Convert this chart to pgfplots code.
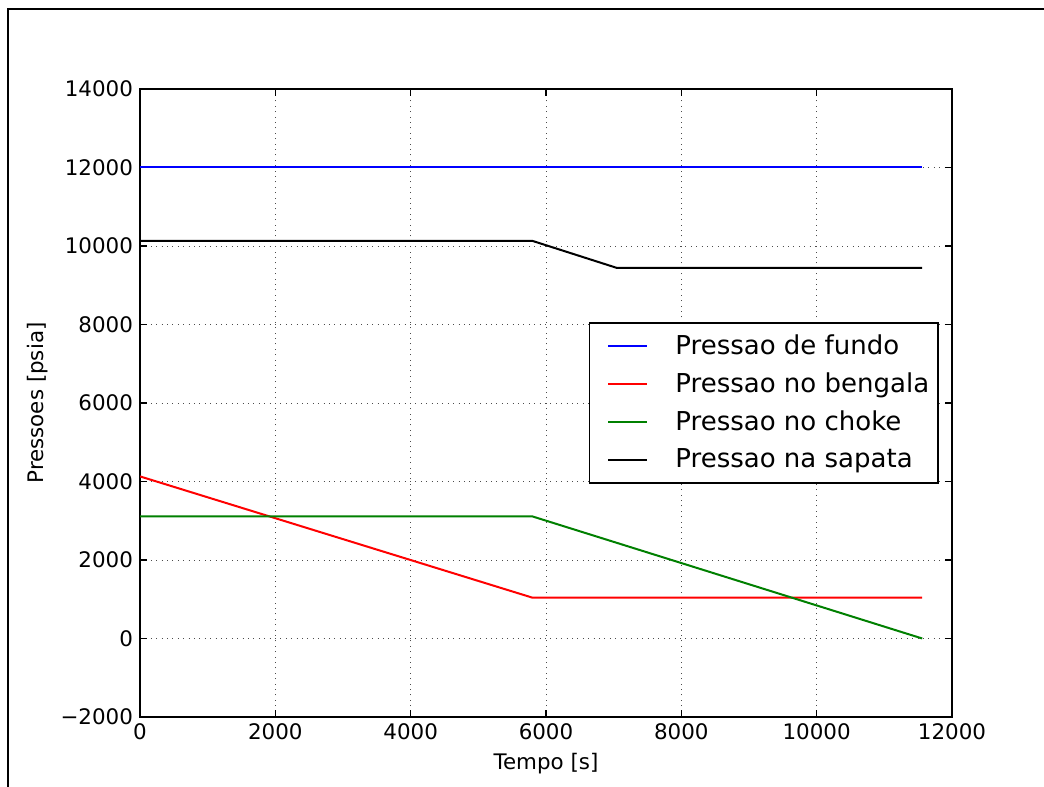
\documentclass[border=0pt]{standalone}
\usepackage{pgfplots}
\pgfplotsset{compat=1.18}
\usepackage{fontspec}
\setmainfont{DejaVu Sans}
\begin{document}
\begin{tikzpicture}
\useasboundingbox (0pt,0pt) rectangle (522pt,393.5pt);
\fill[white] (0pt,0pt) rectangle (522pt,393.5pt);
\draw[line width=1pt] (4pt,0pt) -- (4pt,389pt) -- (522pt,389pt);
\begin{axis}[
  at={(70pt,35pt)}, anchor=south west,
  scale only axis, width=406pt, height=314pt,
  xmin=0, xmax=12000, ymin=-2000, ymax=14000,
  xtick={0,2000,4000,6000,8000,10000,12000},
  ytick={-2000,0,2000,4000,6000,8000,10000,12000,14000},
  xticklabels={0,2000,4000,6000,8000,10000,12000},
  yticklabels={−2000,0,2000,4000,6000,8000,10000,12000,14000},
  scaled ticks=false,
  tick label style={font=\fontsize{10.7}{12}\selectfont},
  label style={font=\fontsize{10.7}{12}\selectfont},
  xlabel={Tempo [s]}, ylabel={Pressoes [psia]},
  xlabel style={yshift=0.5pt},
  ylabel style={yshift=-0.5pt},
  tick align=inside, major tick length=3.5pt,
  tick style={black, line width=0.6pt},
  axis line style={line width=0.8pt},
  grid=major, major grid style={black!70, line width=0.4pt, dash pattern=on 0.5pt off 2.2pt},
  legend cell align=left,
  legend style={at={(rel axis cs:1,0.5)}, anchor=east, xshift=-6.5pt,
    font=\fontsize{13}{15.5}\selectfont, draw=black, line width=0.8pt,
    inner xsep=2.5pt, inner ysep=4pt, row sep=3.6pt, column sep=11.5pt,
    nodes={inner xsep=2pt, inner ysep=2pt}},
  legend image code/.code={\path (0pt,0pt); \draw[#1, line width=1pt] (6.5pt,0pt) -- (26pt,0pt);},
]
\addplot[color={rgb,1:red,0;green,0;blue,1}, line width=1pt] coordinates {(0,12000) (11560,12000)};
\addlegendentry{Pressao de fundo}
\addplot[color={rgb,1:red,1;green,0;blue,0}, line width=1pt] coordinates {(0,4130) (5800,1040) (11560,1040)};
\addlegendentry{Pressao no bengala}
\addplot[color={rgb,1:red,0;green,0.5;blue,0}, line width=1pt] coordinates {(0,3110) (5800,3110) (11560,0)};
\addlegendentry{Pressao no choke}
\addplot[black, line width=1pt] coordinates {(0,10130) (5800,10130) (7050,9440) (11560,9440)};
\addlegendentry{Pressao na sapata}
\end{axis}
\end{tikzpicture}
\end{document}
